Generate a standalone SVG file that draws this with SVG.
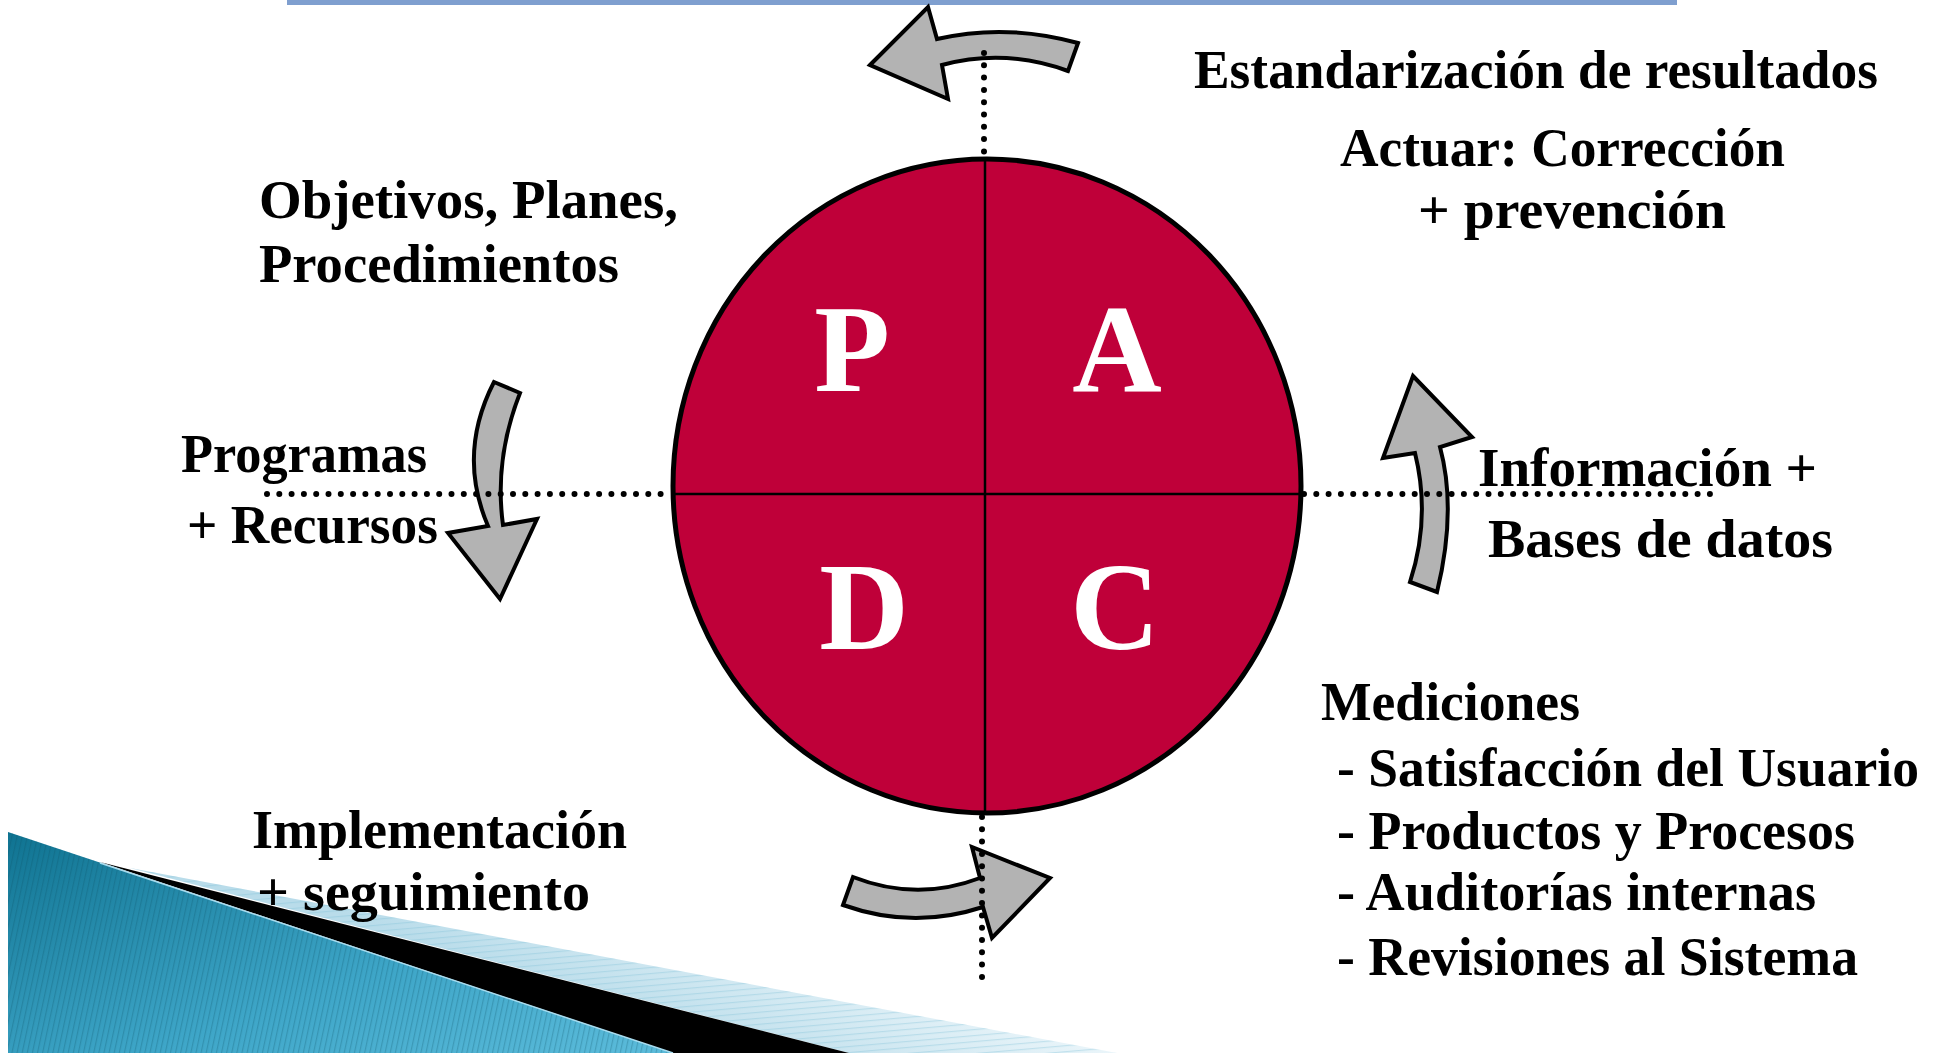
<svg xmlns="http://www.w3.org/2000/svg" width="1946" height="1053" viewBox="0 0 1946 1053">
<style>
.lbl{font-family:"Liberation Serif","Times New Roman",serif;font-weight:bold;font-size:54px;fill:#000}
.big{font-family:"Liberation Serif","Times New Roman",serif;font-weight:bold;font-size:124px;fill:#fff;text-anchor:middle}
.arr{fill:#b3b3b3;stroke:#000;stroke-width:4;stroke-linejoin:miter}
.dot{fill:none;stroke:#000;stroke-width:6;stroke-linecap:round;stroke-dasharray:0 12.3}
</style>
<defs>
<linearGradient id="gBlue" x1="0" y1="0" x2="1" y2="1">
<stop offset="0" stop-color="#0f7391"/>
<stop offset="0.6" stop-color="#3ea6c8"/>
<stop offset="1" stop-color="#5cbcdb"/>
</linearGradient>
<linearGradient id="gLight" gradientUnits="userSpaceOnUse" x1="700" y1="1053" x2="760" y2="900">
<stop offset="0" stop-color="#b9dcea"/>
<stop offset="1" stop-color="#eef7fb"/>
</linearGradient>
<pattern id="pStripe" width="5" height="10" patternUnits="userSpaceOnUse" patternTransform="rotate(12)">
<rect x="0" y="0" width="1.2" height="10" fill="#0a4f63" fill-opacity="0.25"/>
</pattern>
<pattern id="pHStripe" width="10" height="6" patternUnits="userSpaceOnUse" patternTransform="rotate(-5)">
<rect x="0" y="0" width="10" height="1.2" fill="#7fbfd6" fill-opacity="0.35"/>
</pattern>
</defs>

<g id="decor">
<rect x="287" y="0" width="1390" height="5" fill="#7f9fcf"/>
<polygon points="130,868 1117,1053 849,1053" fill="url(#gLight)"/>
<polygon points="130,868 1117,1053 849,1053" fill="url(#pHStripe)"/>
<polygon points="8,832 8,1053 673,1053" fill="url(#gBlue)"/>
<polygon points="8,832 8,1053 673,1053" fill="url(#pStripe)"/>
<polygon points="100,862 849,1053 673,1053" fill="#000"/>
<line x1="100" y1="863" x2="673" y2="1053" stroke="#a8dcef" stroke-width="1.5"/>
</g>

<g id="node-pdca">
<ellipse cx="987" cy="486" rx="314" ry="327" fill="#bf0039" stroke="#000" stroke-width="5"/>
<line x1="985" y1="159" x2="985" y2="813" stroke="#000" stroke-width="2.5"/>
<line x1="674" y1="494" x2="1300" y2="494" stroke="#000" stroke-width="2.5"/>
<text class="big" x="852" y="391">P</text>
<text class="big" x="1117" y="391">A</text>
<text class="big" x="864" y="649">D</text>
<text class="big" x="1115" y="649">C</text>
</g>

<g id="connectors">
<path id="arrow-act" class="arr" d="M870,65 L928,7 L937,39 Q1006,23 1078,43 L1068,71 Q1005,48 942,65 L948,99 Z"/>
<path id="arrow-plan" class="arr" d="M494,382 L520,393 Q494,459 503,525 L537,519 L500,599 L448,533 L488,526 Q457,454 494,382 Z"/>
<path id="arrow-do" class="arr" d="M853,877 Q917,902 980,878 L972,847 L1050,878 L992,938 L983,907 Q913,930 843,905 Z"/>
<path id="arrow-check" class="arr" d="M1413,376 L1472,437 L1440,447 Q1457,510 1437,592 L1410,582 Q1431,518 1415,453 L1383,458 Z"/>
<line class="dot" x1="984" y1="53" x2="984" y2="156"/>
<line class="dot" x1="982" y1="817" x2="982" y2="986"/>
<line class="dot" x1="267" y1="494" x2="670" y2="494"/>
<line class="dot" x1="1304" y1="494" x2="1710" y2="494"/>
</g>

<g id="label-act">
<text class="lbl" x="1194" y="88" textLength="684" lengthAdjust="spacingAndGlyphs">Estandarización de resultados</text>
<text class="lbl" x="1340" y="166" textLength="445" lengthAdjust="spacingAndGlyphs">Actuar: Corrección</text>
<text class="lbl" x="1418" y="228" textLength="308" lengthAdjust="spacingAndGlyphs">+ prevención</text>
</g>
<g id="label-plan">
<text class="lbl" x="259" y="218" textLength="419" lengthAdjust="spacingAndGlyphs">Objetivos, Planes,</text>
<text class="lbl" x="259" y="282" textLength="360" lengthAdjust="spacingAndGlyphs">Procedimientos</text>
</g>
<g id="label-programas">
<text class="lbl" x="181" y="472" textLength="246" lengthAdjust="spacingAndGlyphs">Programas</text>
<text class="lbl" x="187" y="543" textLength="251" lengthAdjust="spacingAndGlyphs">+  Recursos</text>
</g>
<g id="label-info">
<text class="lbl" x="1478" y="486" textLength="339" lengthAdjust="spacingAndGlyphs">Información  +</text>
<text class="lbl" x="1488" y="557" textLength="345" lengthAdjust="spacingAndGlyphs">Bases de  datos</text>
</g>
<g id="label-mediciones">
<text class="lbl" x="1321" y="720" textLength="259" lengthAdjust="spacingAndGlyphs">Mediciones</text>
<text class="lbl" x="1337" y="786" textLength="582" lengthAdjust="spacingAndGlyphs">- Satisfacción del Usuario</text>
<text class="lbl" x="1337" y="849" textLength="518" lengthAdjust="spacingAndGlyphs">- Productos y Procesos</text>
<text class="lbl" x="1337" y="910" textLength="479" lengthAdjust="spacingAndGlyphs">- Auditorías internas</text>
<text class="lbl" x="1337" y="975" textLength="521" lengthAdjust="spacingAndGlyphs">- Revisiones al Sistema</text>
</g>
<g id="label-do">
<text class="lbl" x="252" y="848" textLength="375" lengthAdjust="spacingAndGlyphs">Implementación</text>
<text class="lbl" x="257" y="910" textLength="333" lengthAdjust="spacingAndGlyphs">+ seguimiento</text>
</g>
</svg>
